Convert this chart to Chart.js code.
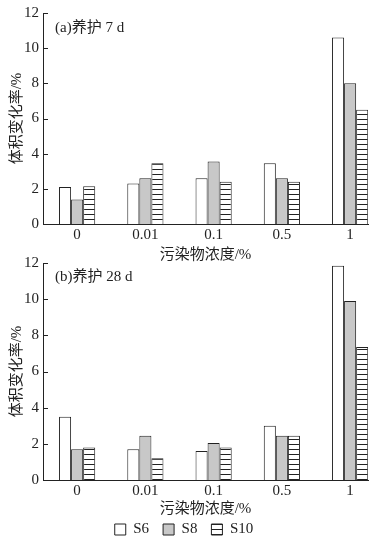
<!DOCTYPE html>
<html>
<head>
<meta charset="utf-8">
<script src="https://cdn.jsdelivr.net/npm/chart.js@4.4.0/dist/chart.umd.min.js"></script>
<style>
body{margin:0;background:#fff;width:374px;height:538px;position:relative;overflow:hidden}
canvas{position:absolute;left:0}
#c1{top:0}
#c2{top:250px}
</style>
</head>
<body>
<canvas id="c1" width="374" height="266"></canvas>
<canvas id="c2" width="374" height="297"></canvas>
<script>
// categories (pollutant concentration, %)
var concentrations = ['0', '0.01', '0.1', '0.5', '1']
var seriesNames = ['S6', 'S8', 'S10']
// (a) cured 7 d
var s6_7d = [2.1, 2.3, 2.6, 3.45, 10.6]
var s8_7d = [1.4, 2.6, 3.55, 2.6, 8.0]
var s10_7d = [2.15, 3.45, 2.4, 2.4, 6.5]
// (b) cured 28 d
var s6_28d = [3.5, 1.7, 1.6, 3.0, 11.85]
var s8_28d = [1.7, 2.45, 2.05, 2.45, 9.9]
var s10_28d = [1.8, 1.2, 1.8, 2.45, 7.35]
var yTicks = [0, 2, 4, 6, 8, 10, 12]

var FONT = "'Liberation Serif', 'Noto Sans CJK SC', serif"
var INK = '#222'

function stripes(ctx)
{
    var c = document.createElement('canvas')
    c.width = 6; c.height = 5
    var g = c.getContext('2d')
    g.fillStyle = '#fff'; g.fillRect(0, 0, 6, 5)
    g.fillStyle = INK; g.fillRect(0, 4, 6, 1)
    return ctx.createPattern(c, 'repeat')
}

function points(vals)
{
    return vals.map((v, i) => ({x: i, y: v}))
}

// inward tick marks on y axis + panel label
var extras = {
    id: 'extras',
    afterDraw(chart, args, opts) {
        const ctx = chart.ctx
        const y = chart.scales.y
        const a = chart.chartArea
        ctx.save()
        ctx.strokeStyle = INK
        ctx.lineWidth = 1
        yTicks.forEach(t => {
            const py = Math.round(y.getPixelForValue(t)) + 0.5
            ctx.beginPath()
            ctx.moveTo(a.left, py)
            ctx.lineTo(a.left + 5, py)
            ctx.stroke()
        })
        ctx.fillStyle = INK
        ctx.font = '15px ' + FONT
        ctx.textBaseline = 'middle'
        ctx.fillText(opts.text, a.left + 12, a.top + opts.dy)
        ctx.restore()
    }
}

function makeChart(id, s6, s8, s10, label, top, dy, showLegend, xHeight, titlePad)
{
    const ctx = document.getElementById(id).getContext('2d')
    const fills = ['#fff', '#c8c8c8', stripes(ctx)]
    const vals = [s6, s8, s10]
    return new Chart(ctx, {
        type: 'bar',
        data: {
            datasets: seriesNames.map((n, i) => ({
                label: n,
                data: points(vals[i]),
                backgroundColor: fills[i],
                borderColor: INK,
                borderWidth: 1,
                barPercentage: 1,
                categoryPercentage: 0.53
            }))
        },
        options: {
            responsive: false,
            animation: false,
            layout: {padding: {left: 0, right: 6, top: top, bottom: 0}},
            plugins: {
                legend: {
                    display: showLegend,
                    position: 'bottom',
                    labels: {
                        boxWidth: 11, boxHeight: 11, padding: 14,
                        color: INK, font: {family: FONT, size: 15}
                    }
                },
                tooltip: {enabled: false},
                extras: {text: label, dy: dy}
            },
            scales: {
                x: {
                    type: 'linear',
                    offset: false,
                    min: -0.5,
                    max: 4.262,
                    afterBuildTicks: s => { s.ticks = concentrations.map((c, i) => ({value: i})) },
                    afterFit: s => { s.height = xHeight },
                    grid: {display: false, drawTicks: false, offset: false},
                    border: {display: true, color: INK, width: 1},
                    ticks: {
                        padding: 2, color: INK, font: {family: FONT, size: 15},
                        maxRotation: 0, autoSkip: false,
                        callback: v => concentrations[v]
                    },
                    title: {display: true, text: '污染物浓度/%', color: INK, font: {family: FONT, size: 15}, padding: {top: 0, bottom: titlePad}}
                },
                y: {
                    min: 0,
                    max: 12,
                    afterBuildTicks: s => { s.ticks = yTicks.map(v => ({value: v})) },
                    afterFit: s => { s.width = 43 },
                    grid: {display: false, drawTicks: false},
                    border: {display: true, color: INK, width: 1},
                    ticks: {padding: 4, color: INK, font: {family: FONT, size: 15}},
                    title: {display: true, text: '体积变化率/%', color: INK, font: {family: FONT, size: 15}, padding: {top: 8, bottom: 0}}
                }
            }
        },
        plugins: [extras]
    })
}

makeChart('c1', s6_7d, s8_7d, s10_7d, '(a)养护 7 d', 8, 15, false, 42, 2)
makeChart('c2', s6_28d, s8_28d, s10_28d, '(b)养护 28 d', 12, 14, true, 28, -10)
</script>
</body>
</html>
